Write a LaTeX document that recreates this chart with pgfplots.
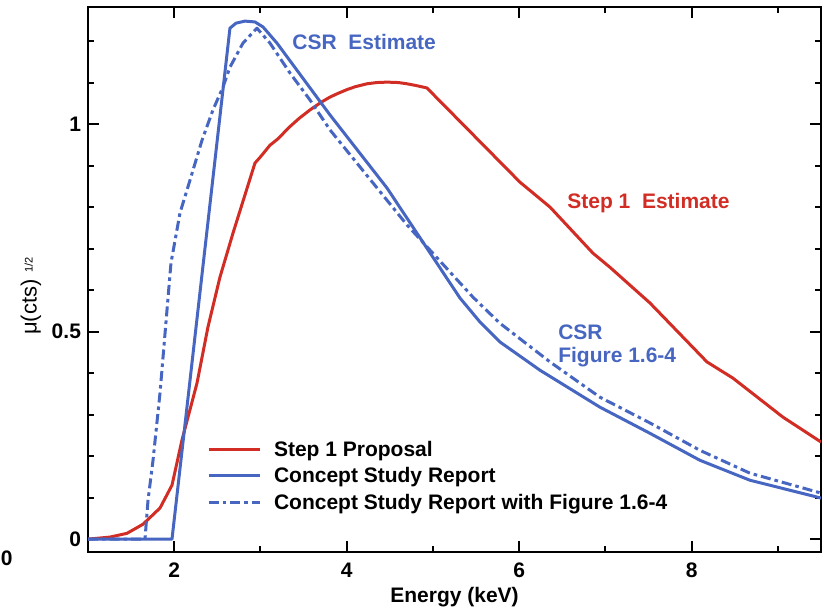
\documentclass[border=0pt]{standalone}
\usepackage{fontspec}
\setmainfont{Liberation Sans}
\usepackage{pgfplots}
\pgfplotsset{compat=1.18}
\definecolor{cred}{RGB}{210,45,36}
\definecolor{cblue}{RGB}{71,102,193}
\newcommand{\lf}{\fontsize{10.5}{12.5}\selectfont\bfseries}
\begin{document}
\begin{tikzpicture}
\begin{axis}[
  scale only axis, width=366.5pt, height=272.5pt,
  xmin=1, xmax=9.5, ymin=-0.031, ymax=1.282,
  xtick={2,4,6,8}, minor xtick={3,5,7,9},
  ytick={0,0.5,1}, minor ytick={0.1,0.2,0.3,0.4,0.6,0.7,0.8,0.9,1.1,1.2},
  major tick length=5.5pt, minor tick length=3pt,
  every tick/.style={line width=1pt, black},
  axis line style={line width=1.1pt},
  tick label style={font=\lf},
  xticklabel style={anchor=base, yshift=-12.5pt},
  /pgf/number format/assume math mode=true,
  legend style={at={(axis description cs:0.16235,0.2073)}, anchor=north west, draw=none, fill=none,
    inner sep=0pt, outer sep=0pt, font=\lf, row sep=3.25pt,
    nodes={inner sep=0pt, text height=8.5pt, text depth=1.5pt},
    /tikz/every odd column/.append style={column sep=6.5pt}},
  legend cell align=left,
  legend image code/.code={\draw[#1] (0pt,0pt) -- (25.5pt,0pt);},
  every axis plot/.append style={line width=1.5pt, line join=round},
]
\addplot[cred] coordinates {
(1.0,0) (1.255,0.005) (1.452,0.014) (1.638,0.036) (1.835,0.075) (1.974,0.130)
(2.090,0.239) (2.264,0.376) (2.391,0.511) (2.530,0.631) (2.681,0.737) (2.936,0.906)
(3.0,0.921) (3.110,0.949) (3.2,0.964) (3.342,0.994) (3.45,1.014) (3.574,1.034)
(3.7,1.052) (3.806,1.065) (3.9,1.074) (4.003,1.083) (4.1,1.090) (4.235,1.097)
(4.35,1.100) (4.467,1.101) (4.6,1.100) (4.699,1.097) (4.8,1.093) (4.930,1.087)
(6.009,0.860) (6.357,0.800) (6.855,0.689)
(7.052,0.655) (7.516,0.569) (8.177,0.427) (8.478,0.388) (9.058,0.294) (9.5,0.234)
};
\addlegendentry{Step 1 Proposal}
\addplot[cblue] coordinates {
(1.0,0) (1.974,0) (2.646,1.231) (2.716,1.243) (2.820,1.248) (2.936,1.246) (3.029,1.234)
(3.191,1.195) (3.806,1.022) (4.467,0.846) (5.313,0.581) (5.55,0.522) (5.777,0.475) (6.241,0.407)
(6.936,0.318) (7.516,0.255) (8.096,0.190) (8.675,0.142) (9.5,0.099)
};
\addlegendentry{Concept Study Report}
\addplot[cblue, dash pattern=on 5pt off 2pt on 1.8pt off 2pt] coordinates {
(1.0,0) (1.661,0) (1.696,0.094) (1.754,0.190) (1.835,0.352) (1.916,0.552) (1.962,0.665)
(2.067,0.786) (2.183,0.865) (2.322,0.961) (2.449,1.034) (2.565,1.089) (2.646,1.137)
(2.797,1.195) (2.959,1.231) (3.110,1.195) (3.342,1.123) (3.574,1.058) (3.806,0.986)
(4.699,0.757) (5.464,0.583) (5.777,0.520) (6.357,0.427) (6.936,0.342) (7.516,0.280)
(8.096,0.214) (8.675,0.159) (9.5,0.111)
};
\addlegendentry{Concept Study Report with Figure 1.6-4}
\node[anchor=west, inner sep=0pt, text=cblue, font=\lf] at (axis cs:3.365,1.198) {CSR\ \ Estimate};
\node[anchor=west, inner sep=0pt, text=cred, font=\lf] at (axis cs:6.554,0.810) {Step 1\ \ Estimate};
\node[anchor=west, inner sep=0pt, text=cblue, font=\lf] at (axis cs:6.449,0.499) {CSR};
\node[anchor=west, inner sep=0pt, text=cblue, font=\lf] at (axis cs:6.449,0.439) {Figure 1.6-4};
\end{axis}
\node[anchor=west, inner sep=0pt, font=\lf] at ([shift={(-43.8pt,-3pt)}]current axis.south west) {0};
\node[rotate=90, inner sep=0pt] at ([shift={(-28.5pt,128pt)}]current axis.south west)
  {\fontsize{11}{13}\selectfont μ(cts)\hspace{3.5pt}\raisebox{2pt}{\fontsize{5.5}{6}\selectfont 1/2}};
\node[anchor=base, inner sep=0pt, font=\lf] at ([shift={(183.25pt,-25pt)}]current axis.south west) {Energy (keV)};
\pgfresetboundingbox
\useasboundingbox ([shift={(-44pt,-29.5pt)}]current axis.south west) rectangle ([shift={(1.5pt,3.5pt)}]current axis.north east);
\end{tikzpicture}
\end{document}
